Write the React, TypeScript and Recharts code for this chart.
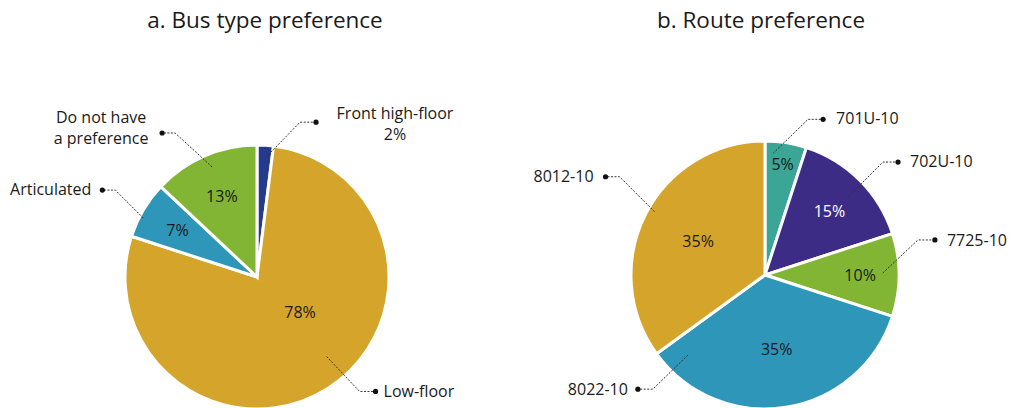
import React from 'react';
import { PieChart, Pie, Cell } from 'recharts';

// a. Bus type preference
const busTypes = ['Front high-floor', 'Low-floor', 'Articulated', 'Do not have a preference'];
const busShares = [2, 78, 7, 13];
const busColors = ['#243a8c', '#d4a52a', '#2e96b8', '#83b535'];
const busLabelLines = [['Front high-floor', '2%'], ['Low-floor'], ['Articulated'], ['Do not have', 'a preference']];
const busPctInside = [false, true, true, true];

// b. Route preference
const routes = ['701U-10', '702U-10', '7725-10', '8022-10', '8012-10'];
const routeShares = [5, 15, 10, 35, 35];
const routeColors = ['#3ba596', '#3d2c85', '#83b535', '#2e96b8', '#d4a52a'];

const busData = busTypes.map((name, i) => ({ name, value: busShares[i] }));
const routeData = routes.map((name, i) => ({ name, value: routeShares[i] }));

const FONT = '"Open Sans", "Noto Sans", sans-serif';
const RADIAN = Math.PI / 180;

// leader line layout: start angle/fraction inside slice, diagonal, horizontal tail, text offset
type Leader = { a: number; f: number; dx: number; dy: number; h: number; tx: number; ty: number; anchor: 'start' | 'end' | 'middle' };

const busLeaders: Leader[] = [
  { a: 85.7, f: 0.91, dx: 34, dy: -35, h: 16, tx: 79, ty: -9, anchor: 'middle' },
  { a: -48.8, f: 0.8, dx: 33, dy: 35, h: 16, tx: 8, ty: 0, anchor: 'start' },
  { a: 152.6, f: 0.97, dx: -28, dy: -28, h: 13, tx: -11, ty: -1, anchor: 'end' },
  { a: 112.2, f: 0.9, dx: -37, dy: -34, h: 13, tx: -61, ty: -16, anchor: 'middle' },
];
const busPct = [{ f: 0 }, { a: -39, f: 0.42 }, { f: 0.7 }, { f: 0.67 }];

const routeLeaders: Leader[] = [
  { a: 86.2, f: 0.91, dx: 35, dy: -34, h: 15, tx: 13, ty: -1, anchor: 'start' },
  { a: 43.2, f: 0.85, dx: 35, dy: -35, h: 15, tx: 12, ty: -1, anchor: 'start' },
  { a: 1, f: 0.88, dx: 35, dy: -33, h: 17, tx: 12, ty: 0, anchor: 'start' },
  { a: -133.9, f: 0.83, dx: -35, dy: 34, h: 15, tx: -10, ty: 0, anchor: 'end' },
  { a: 150.2, f: 0.95, dx: -35, dy: -35, h: 14, tx: -12, ty: -1, anchor: 'end' },
];
const routePct = [{ f: 0.84 }, { f: 0.68 }, { f: 0.71 }, { f: 0.56 }, { f: 0.56 }];
const routePctColors = ['#1a1a1a', '#ffffff', '#1a1a1a', '#1a1a1a', '#1a1a1a'];

const makeLabel = (
  leaders: Leader[],
  pct: { a?: number; f: number }[],
  lines: (p: any) => string[],
  showPct: (i: number) => boolean,
  pctColor: (i: number) => string,
) => (props: any) => {
  const { cx, cy, midAngle, outerRadius, index, value } = props;
  const L = leaders[index];
  const sx = cx + outerRadius * L.f * Math.cos(L.a * RADIAN);
  const sy = cy - outerRadius * L.f * Math.sin(L.a * RADIAN);
  const ex = sx + L.dx;
  const ey = sy + L.dy;
  const dotX = ex + (L.dx > 0 ? L.h : -L.h);
  const P = pct[index];
  const pa = P.a ?? midAngle;
  const px = cx + outerRadius * P.f * Math.cos(pa * RADIAN);
  const py = cy - outerRadius * P.f * Math.sin(pa * RADIAN);
  const textLines = lines(props);
  return (
    <g>
      <polyline
        points={`${sx},${sy} ${ex},${ey} ${dotX},${ey}`}
        fill="none"
        stroke="#333"
        strokeWidth={1}
        strokeDasharray="2 1.5"
      />
      <circle cx={dotX} cy={ey} r={2.6} fill="#111" />
      {textLines.map((t, k) => (
        <text
          key={k}
          x={dotX + L.tx}
          y={ey + L.ty + k * 21}
          textAnchor={L.anchor}
          dominantBaseline="central"
          fontFamily={FONT}
          fontSize={16}
          fill="#1a1a1a"
        >
          {t}
        </text>
      ))}
      {showPct(index) && (
        <text
          x={px}
          y={py}
          textAnchor="middle"
          dominantBaseline="central"
          fontFamily={FONT}
          fontSize={16}
          fill={pctColor(index)}
        >
          {value}%
        </text>
      )}
    </g>
  );
};

const busLabel = makeLabel(
  busLeaders,
  busPct,
  (p) => busLabelLines[p.index],
  (i) => busPctInside[i],
  () => '#1a1a1a',
);
const routeLabel = makeLabel(
  routeLeaders,
  routePct,
  (p) => [p.name],
  () => true,
  (i) => routePctColors[i],
);

const titleStyle: React.CSSProperties = {
  position: 'absolute',
  top: 4,
  width: 400,
  textAlign: 'center',
  fontFamily: FONT,
  fontSize: 22.5,
  color: '#1a1a1a',
  lineHeight: '32px',
};

export default function App() {
  return (
    <div style={{ position: 'absolute', left: 0, top: 0, width: 1011, height: 408, background: '#fff', overflow: 'hidden' }}>
      <div style={{ ...titleStyle, left: 265 - 200 }}>a. Bus type preference</div>
      <div style={{ ...titleStyle, left: 761 - 200 }}>b. Route preference</div>
      <PieChart
        width={1011}
        height={420}
        margin={{ top: 0, right: 0, bottom: 0, left: 0 }}
        style={{ position: 'absolute', left: 0, top: 0 }}
      >
        <Pie
          data={busData}
          dataKey="value"
          nameKey="name"
          cx={257}
          cy={277}
          outerRadius={132}
          startAngle={90}
          endAngle={-270}
          stroke="#fff"
          strokeWidth={3}
          label={busLabel}
          labelLine={false}
          isAnimationActive={false}
        >
          {busData.map((d, i) => (
            <Cell key={d.name} fill={busColors[i]} />
          ))}
        </Pie>
        <Pie
          data={routeData}
          dataKey="value"
          nameKey="name"
          cx={765}
          cy={275}
          outerRadius={134}
          startAngle={90}
          endAngle={-270}
          stroke="#fff"
          strokeWidth={3}
          label={routeLabel}
          labelLine={false}
          isAnimationActive={false}
        >
          {routeData.map((d, i) => (
            <Cell key={d.name} fill={routeColors[i]} />
          ))}
        </Pie>
      </PieChart>
    </div>
  );
}
